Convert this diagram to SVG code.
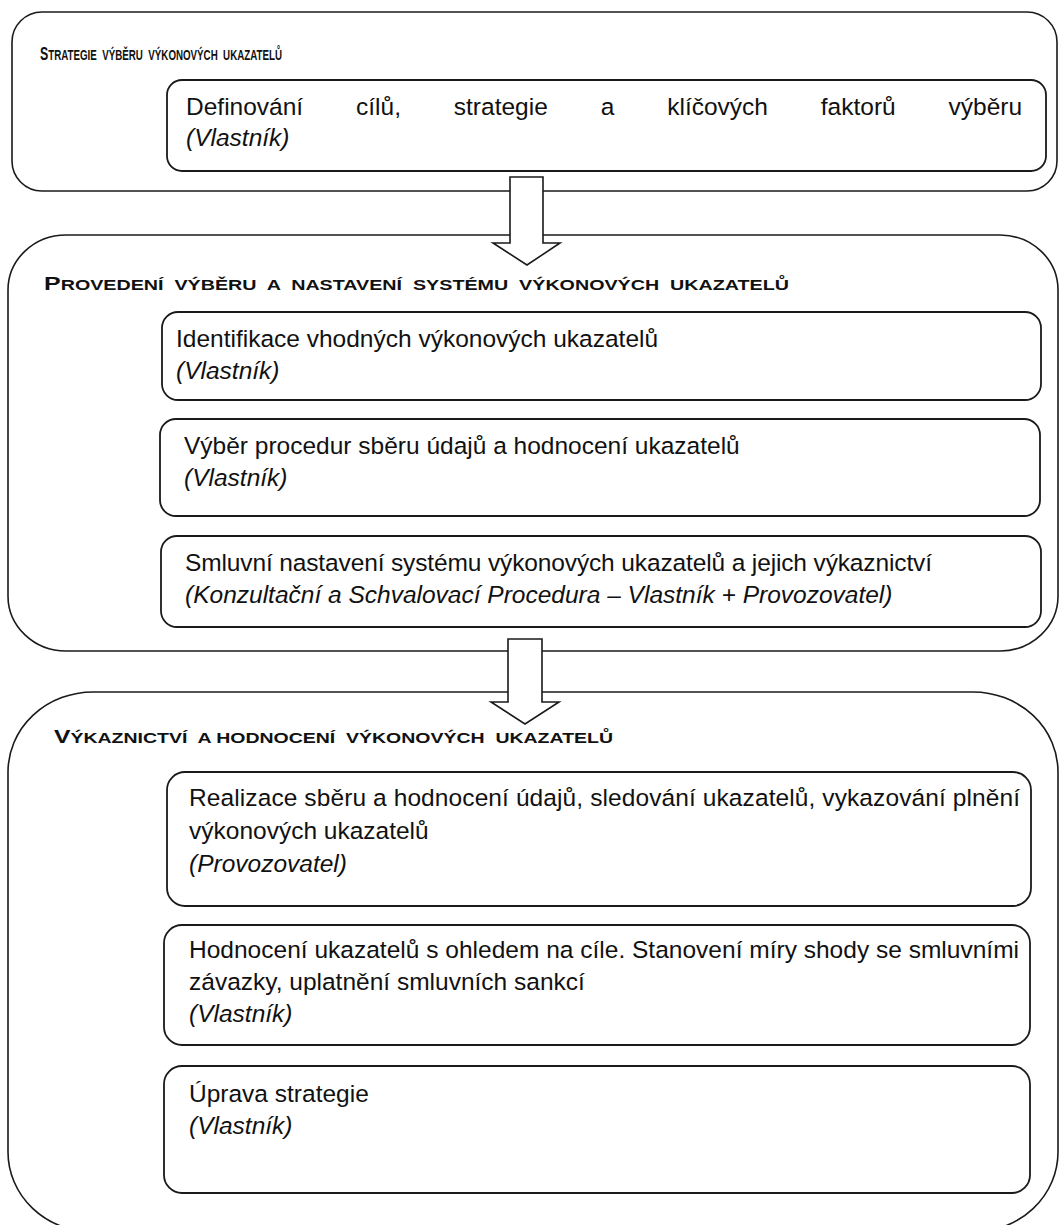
<svg xmlns="http://www.w3.org/2000/svg" width="1059" height="1225" viewBox="0 0 1059 1225">
<style>
.outer{fill:none;stroke:#1a1a1a;stroke-width:1.6}
.inner{fill:#fff;stroke:#1a1a1a;stroke-width:1.8}
.arrow{fill:#fff;stroke:#1a1a1a;stroke-width:1.6;stroke-linejoin:miter}
.t{font-family:"Liberation Sans",Arial,sans-serif;font-size:24.5px;fill:#111}
.i{font-style:italic}
.title{font-family:"Liberation Sans",Arial,sans-serif;font-weight:bold;fill:#111}
.big{font-size:19px}
.sc{font-size:15px}
</style>
<rect width="1059" height="1225" fill="#fff"/>
<g id="phase1">
<rect class="outer" x="12" y="12" width="1045" height="179" rx="30" ry="30"/>
<text class="title" x="40" y="60" xml:space="preserve" textLength="242" lengthAdjust="spacingAndGlyphs"><tspan class="big">S</tspan><tspan class="sc">TRATEGIE  VÝBĚRU  VÝKONOVÝCH  UKAZATELŮ</tspan></text>
</g>
<g id="phase2">
<rect class="outer" x="8" y="235" width="1050" height="416" rx="58" ry="55"/>
<text class="title" x="44" y="290" xml:space="preserve" textLength="745" lengthAdjust="spacingAndGlyphs"><tspan class="big">P</tspan><tspan class="sc">ROVEDENÍ  VÝBĚRU  A  NASTAVENÍ  SYSTÉMU  VÝKONOVÝCH  UKAZATELŮ</tspan></text>
</g>
<g id="phase3">
<rect class="outer" x="8" y="692" width="1050" height="540" rx="85" ry="80"/>
<text class="title" x="54" y="743" xml:space="preserve" textLength="559" lengthAdjust="spacingAndGlyphs"><tspan class="big">V</tspan><tspan class="sc">ÝKAZNICTVÍ  A HODNOCENÍ  VÝKONOVÝCH  UKAZATELŮ</tspan></text>
</g>
<g id="connectors">
<polygon class="arrow" points="510,177 543,177 543,243 560,243 527,265 493,243 510,243"/>
<polygon class="arrow" points="508,639 542,639 542,702 559,702 525,724 491,702 508,702"/>
</g>
<g id="step-definovani">
<rect class="inner" x="167" y="80" width="879" height="91" rx="15"/>
<text class="t" y="115"><tspan x="186">Definování</tspan><tspan x="356">cílů,</tspan><tspan x="453.8">strategie</tspan><tspan x="600.7">a</tspan><tspan x="667.2">klíčových</tspan><tspan x="820.8">faktorů</tspan><tspan x="948.6">výběru</tspan></text>
<text class="t i" x="186" y="146">(Vlastník)</text>
</g>
<g id="step-identifikace">
<rect class="inner" x="162" y="312" width="879" height="88" rx="16"/>
<text class="t" x="176" y="347">Identifikace vhodných výkonových ukazatelů</text>
<text class="t i" x="176" y="379">(Vlastník)</text>
</g>
<g id="step-vyber">
<rect class="inner" x="160" y="419" width="880" height="97" rx="16"/>
<text class="t" x="184" y="454">Výběr procedur sběru údajů a hodnocení ukazatelů</text>
<text class="t i" x="184" y="486">(Vlastník)</text>
</g>
<g id="step-smluvni">
<rect class="inner" x="161" y="536" width="880" height="91" rx="16"/>
<text class="t" x="185" y="571" textLength="747" lengthAdjust="spacing">Smluvní nastavení systému výkonových ukazatelů a jejich výkaznictví</text>
<text class="t i" x="185" y="603">(Konzultační a Schvalovací Procedura – Vlastník + Provozovatel)</text>
</g>
<g id="step-realizace">
<rect class="inner" x="167" y="772" width="864" height="134" rx="18"/>
<text class="t" x="189" y="806" textLength="831" lengthAdjust="spacing">Realizace sběru a hodnocení údajů, sledování ukazatelů, vykazování plnění</text>
<text class="t" x="189" y="839">výkonových ukazatelů</text>
<text class="t i" x="189" y="872">(Provozovatel)</text>
</g>
<g id="step-hodnoceni">
<rect class="inner" x="164" y="925" width="866" height="120" rx="18"/>
<text class="t" x="189" y="958" textLength="830" lengthAdjust="spacing">Hodnocení ukazatelů s ohledem na cíle. Stanovení míry shody se smluvními</text>
<text class="t" x="189" y="990">závazky, uplatnění smluvních sankcí</text>
<text class="t i" x="189" y="1022">(Vlastník)</text>
</g>
<g id="step-uprava">
<rect class="inner" x="164" y="1066" width="866" height="127" rx="18"/>
<text class="t" x="189" y="1102">Úprava strategie</text>
<text class="t i" x="189" y="1134">(Vlastník)</text>
</g>
</svg>
